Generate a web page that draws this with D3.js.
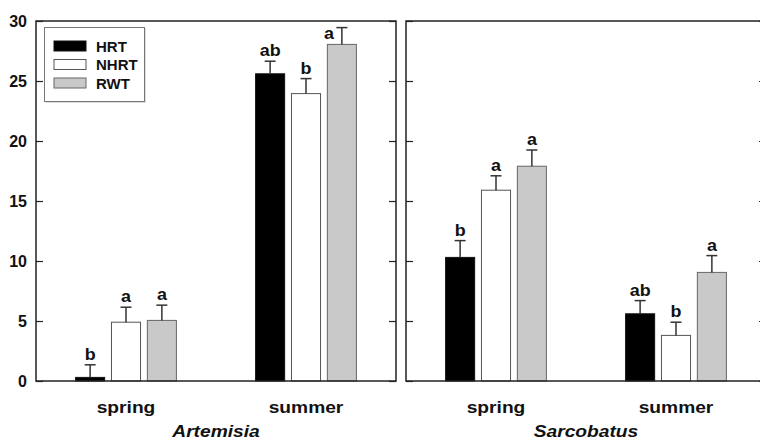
<!DOCTYPE html>
<html>
<head>
<meta charset="utf-8">
<script src="https://cdn.jsdelivr.net/npm/d3@7/dist/d3.min.js"></script>
<style>
 body{margin:0;background:#fff;}
 svg{display:block;font-family:Arial,"Liberation Sans",sans-serif;}
</style>
</head>
<body>
<svg id="chart" width="760" height="442"></svg>
<script>
// seasons, treatments, panels
const seasons=["spring","summer"];
const treatments=["HRT","NHRT","RWT"];
const species=["Artemisia","Sarcobatus"];
const yTicks=[0,5,10,15,20,25,30];

// means per season (HRT, NHRT, RWT)
const artemisiaMeans=[[0.3,4.9,5.05],[25.6,23.95,28.05]];
const artemisiaErrors=[[1.05,1.25,1.27],[1.05,1.25,1.4]];
const artemisiaLetters=[["b","a","a"],["ab","b","a"]];
const sarcobatusMeans=[[10.3,15.9,17.9],[5.6,3.8,9.05]];
const sarcobatusErrors=[[1.4,1.2,1.35],[1.1,1.1,1.4]];
const sarcobatusLetters=[["b","a","a"],["ab","b","a"]];

const fills={HRT:"#000",NHRT:"#fff",RWT:"#c9c9c9"};
const strokes={HRT:"#111",NHRT:"#555",RWT:"#666"};

const panels=[
 {name:species[0],means:artemisiaMeans,errors:artemisiaErrors,letters:artemisiaLetters,left:36,labels:true},
 {name:species[1],means:sarcobatusMeans,errors:sarcobatusErrors,letters:sarcobatusLetters,left:406,labels:false}];

const svg=d3.select("#chart");
const width=360;
const y=d3.scaleLinear().domain([0,30]).range([381,21]);
const x=d3.scaleBand().domain(seasons).range([0,width]).paddingInner(0.44).paddingOuter(0.22);
const xs=d3.scaleBand().domain(treatments).range([0,x.bandwidth()]).paddingInner(0.19);

// horizontally stretched text, as in the scanned figure
const stretch=(sel,sx)=>sel.attr("transform",function(){
 const t=d3.select(this);return `translate(${t.attr("data-x")},${t.attr("data-y")}) scale(${sx},1)`;});

panels.forEach(p=>{
 const g=svg.append("g").attr("transform",`translate(${p.left},0)`);
 const rows=p.means.flatMap((vals,i)=>vals.map((v,j)=>({season:seasons[i],treatment:treatments[j],value:v,
  error:p.errors[i][j],letter:p.letters[i][j]})));

 // bars
 g.selectAll("rect.bar").data(rows).join("rect").attr("class","bar")
  .attr("x",d=>x(d.season)+xs(d.treatment)).attr("width",xs.bandwidth())
  .attr("y",d=>y(d.value)).attr("height",d=>y(0)-y(d.value))
  .attr("fill",d=>fills[d.treatment]).attr("stroke",d=>strokes[d.treatment]).attr("stroke-width",1);

 // error bars (upper only)
 const cx=d=>x(d.season)+xs(d.treatment)+xs.bandwidth()/2;
 const eb=g.selectAll("g.err").data(rows).join("g").attr("class","err")
  .attr("stroke","#333").attr("stroke-width",1.5);
 eb.append("line").attr("x1",cx).attr("x2",cx).attr("y1",d=>y(d.value)).attr("y2",d=>y(d.value+d.error));
 eb.append("line").attr("x1",d=>cx(d)-5.5).attr("x2",d=>cx(d)+5.5)
  .attr("y1",d=>y(d.value+d.error)).attr("y2",d=>y(d.value+d.error));

 // significance letters
 g.selectAll("text.letter").data(rows).join("text").attr("class","letter")
  .attr("font-size",16).attr("font-weight","bold").attr("fill","#111")
  .each(function(d){
   const top=y(d.value+d.error);
   const beside=top-17<y(30);
   d3.select(this).attr("text-anchor",beside?"end":"middle")
    .attr("data-x",beside?cx(d)-8:cx(d)).attr("data-y",beside?top+11:top-5);})
  .text(d=>d.letter).call(stretch,1.12);

 // frame
 g.append("rect").attr("x",0).attr("y",y(30)).attr("width",width).attr("height",y(0)-y(30))
  .attr("fill","none").attr("stroke","#222").attr("stroke-width",1.5);

 const left=g.append("g").call(d3.axisLeft(y).tickValues(yTicks).tickSize(-7).tickSizeOuter(0).tickPadding(9)
  .tickFormat(p.labels?d3.format("d"):""));
 left.select(".domain").remove();
 left.selectAll("line").attr("stroke","#222").attr("stroke-width",1.2);
 left.selectAll("text").attr("font-size",16).attr("font-weight","bold").attr("fill","#111")
  .attr("font-family","Arial,'Liberation Sans',sans-serif");
 const right=g.append("g").attr("transform",`translate(${width},0)`)
  .call(d3.axisRight(y).tickValues(yTicks).tickSize(-7).tickSizeOuter(0).tickFormat(""));
 right.select(".domain").remove();
 right.selectAll("line").attr("stroke","#222").attr("stroke-width",1.2);

 // season labels
 g.selectAll("text.season").data(seasons).join("text").attr("class","season")
  .attr("text-anchor","middle").attr("font-size",16).attr("font-weight","bold").attr("fill","#111")
  .attr("data-x",d=>x(d)+x.bandwidth()/2).attr("data-y",413)
  .text(d=>d).call(stretch,1.2);

 g.append("text").attr("text-anchor","middle").attr("font-size",16).attr("font-weight","bold")
  .attr("font-style","italic").attr("fill","#111").attr("data-x",width/2).attr("data-y",437)
  .text(p.name).call(stretch,1.2);
});

// legend
const legend=svg.append("g").attr("transform","translate(44,27)");
legend.append("rect").attr("x",1.5).attr("y",1.5).attr("width",100).attr("height",74).attr("fill","#bbb");
legend.append("rect").attr("x",0.5).attr("y",0.5).attr("width",100).attr("height",74)
 .attr("fill","#fff").attr("stroke","#777").attr("stroke-width",1);
const item=legend.selectAll("g.item").data(treatments).join("g").attr("class","item")
 .attr("transform",(d,i)=>`translate(10,${14+i*18.5})`);
item.append("rect").attr("width",32).attr("height",10)
 .attr("fill",d=>fills[d]).attr("stroke",d=>strokes[d]).attr("stroke-width",1);
item.append("text").attr("x",42).attr("y",10.5).attr("font-size",15).attr("font-weight","bold").attr("fill","#111")
 .text(d=>d);
</script>
</body>
</html>
